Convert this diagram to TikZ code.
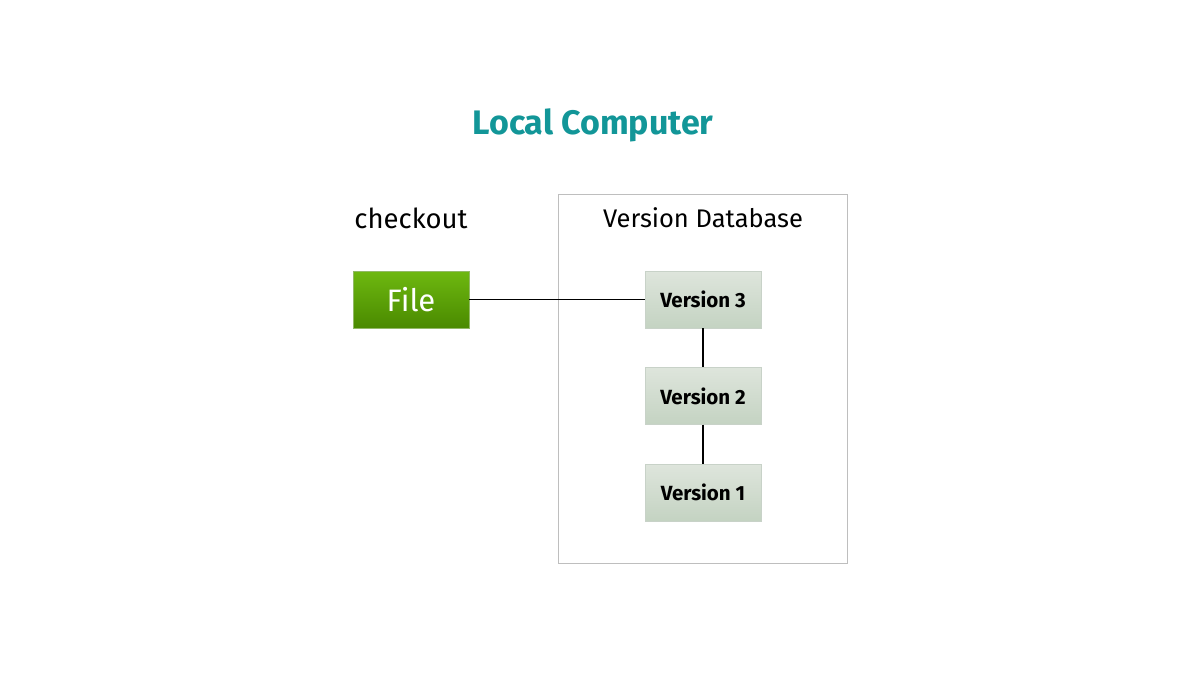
\documentclass[tikz,border=0pt]{standalone}
\usepackage{fontspec}
\setmainfont{Fira Sans}
\usepackage{tikz}
\usetikzlibrary{positioning}
\definecolor{titlecol}{RGB}{18,150,152}
\definecolor{filetop}{RGB}{110,184,16}
\definecolor{filebot}{RGB}{74,138,0}
\definecolor{vertop}{RGB}{222,229,220}
\definecolor{verbot}{RGB}{196,211,194}
\definecolor{verline}{RGB}{200,210,200}
\definecolor{dbline}{RGB}{190,190,190}
\tikzset{
    filebox/.style={draw=filebot!60,top color=filetop,bottom color=filebot,minimum width=116pt,minimum height=57pt,text=white,font=\fontsize{31}{34}\selectfont},
    verbox/.style={draw=verline,top color=vertop,bottom color=verbot,minimum width=116pt,minimum height=57pt,font=\fontsize{20.5}{23}\selectfont\bfseries},
}
\begin{document}
\begin{tikzpicture}[x=1pt,y=-1pt]
    \useasboundingbox[fill=white] (0,0) rectangle (1200,675);

    \node[font=\fontsize{34}{37}\selectfont\bfseries,text=titlecol] (title) at (593,125) {Local Computer};

    %\node[anchor=north west,draw] at (558,194) {};
    \node[anchor=north west,draw=dbline,minimum width=289pt,minimum height=369pt] (db) at (558,194) {};
    \node[font=\fontsize{25.5}{28}\selectfont] (dblabel) at (703,218) {Version Database};
    \node[font=\fontsize{27.5}{30}\selectfont] (checkout) at (411,218) {checkout};

    \node[filebox] (file) at (411,299.5) {File};
    \node[verbox] (v3) at (703,299.5) {Version 3};
    \node[verbox] (v2) at (703,396) {Version 2};
    \node[verbox] (v1) at (703,492.5) {Version 1};

    \draw[line width=1.5pt] (file) -- (v3);
    \draw[line width=1.5pt] (v3) -- (v2);
    \draw[line width=1.5pt] (v2) -- (v1);
\end{tikzpicture}
\end{document}
